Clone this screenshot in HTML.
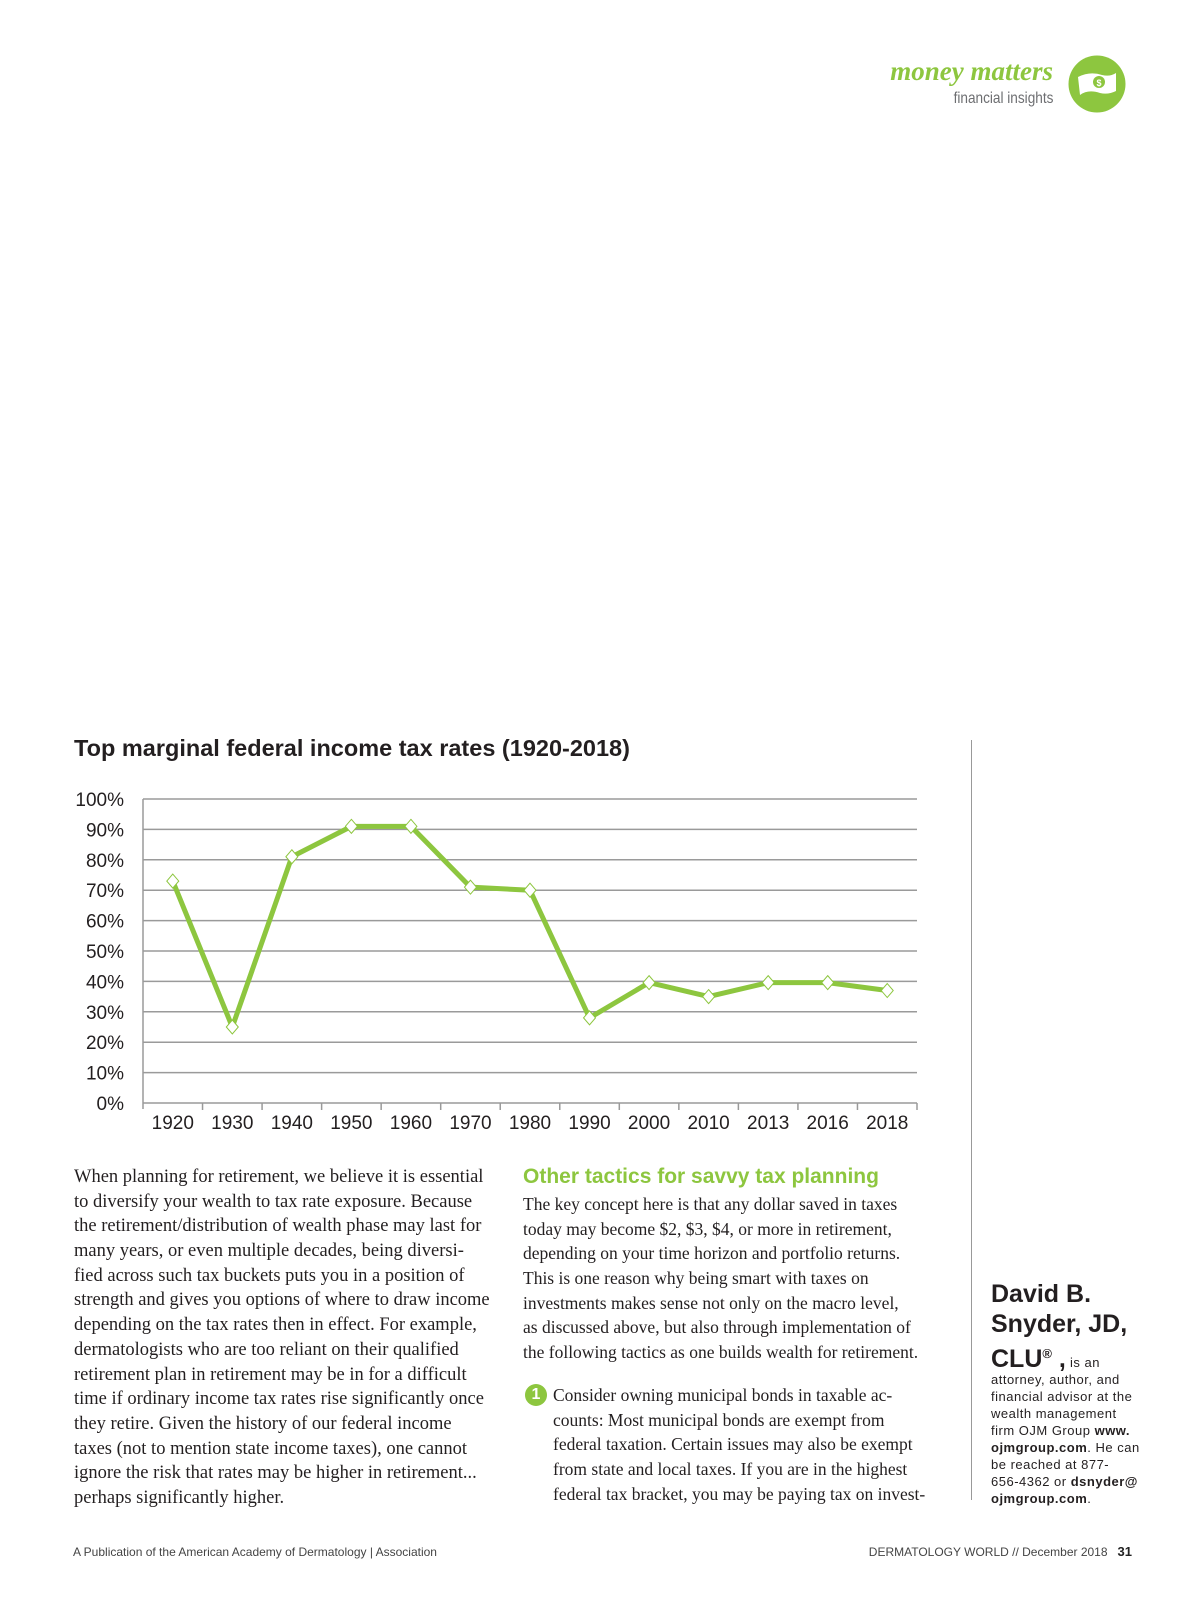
<!DOCTYPE html>
<html><head><meta charset="utf-8">
<style>
*{margin:0;padding:0;box-sizing:border-box}
body{width:1200px;height:1606px;background:#fff;position:relative;overflow:hidden;font-family:"Liberation Sans",sans-serif;color:#231f20}
.abs{position:absolute}
.serif{font-family:"Liberation Serif",serif}
.l{white-space:nowrap;height:24.7px;line-height:24.7px}
.side{white-space:nowrap;font-size:13px;line-height:17px;letter-spacing:0.5px}
</style></head><body>
<div class="abs" style="right:147px;top:56px;font-family:'Liberation Serif',serif;font-style:italic;font-weight:bold;font-size:27px;color:#8dc63f;white-space:nowrap">money matters</div>
<div class="abs" style="right:147px;top:90px;font-size:16px;color:#6d6e71;white-space:nowrap;transform:scaleX(0.85);transform-origin:right">financial insights</div>
<svg class="abs" style="left:1068px;top:55px" width="58" height="58" viewBox="0 0 58 58">
<circle cx="29" cy="29" r="28.5" fill="#8dc63f"/>
<path d="M10 22 Q22 16 34 20 Q42 22 48 18 L48 36 Q40 40 32 38 Q20 34 12 40 Z" fill="#fff"/>
<circle cx="31" cy="27" r="6" fill="#8dc63f"/><text x="31" y="31" font-size="9" fill="#fff" text-anchor="middle" font-family="Liberation Sans" font-weight="bold">$</text>
</svg>

<div class="abs" style="left:74px;top:735px;font-size:23.5px;font-weight:bold;white-space:nowrap">Top marginal federal income tax rates (1920-2018)</div>
<svg class="abs" id="chart" style="left:0;top:770px" width="960" height="370"></svg>

<div class="abs serif" style="left:74px;top:1165px;font-size:18.5px">
<div class="l">When planning for retirement, we believe it is essential</div>
<div class="l">to diversify your wealth to tax rate exposure. Because</div>
<div class="l">the retirement/distribution of wealth phase may last for</div>
<div class="l">many years, or even multiple decades, being diversi-</div>
<div class="l">fied across such tax buckets puts you in a position of</div>
<div class="l">strength and gives you options of where to draw income</div>
<div class="l">depending on the tax rates then in effect. For example,</div>
<div class="l">dermatologists who are too reliant on their qualified</div>
<div class="l">retirement plan in retirement may be in for a difficult</div>
<div class="l">time if ordinary income tax rates rise significantly once</div>
<div class="l">they retire. Given the history of our federal income</div>
<div class="l">taxes (not to mention state income taxes), one cannot</div>
<div class="l">ignore the risk that rates may be higher in retirement...</div>
<div class="l">perhaps significantly higher.</div>
</div>

<div class="abs" style="left:523px;top:1165px;font-size:21px;font-weight:bold;color:#8dc63f;white-space:nowrap">Other tactics for savvy tax planning</div>
<div class="abs serif" style="left:523px;top:1192px;font-size:17.5px">
<div class="l">The key concept here is that any dollar saved in taxes</div>
<div class="l">today may become $2, $3, $4, or more in retirement,</div>
<div class="l">depending on your time horizon and portfolio returns.</div>
<div class="l">This is one reason why being smart with taxes on</div>
<div class="l">investments makes sense not only on the macro level,</div>
<div class="l">as discussed above, but also through implementation of</div>
<div class="l">the following tactics as one builds wealth for retirement.</div>
</div>
<div class="abs" style="left:525px;top:1384px;width:22px;height:22px;border-radius:50%;background:#8dc63f;color:#fff;font-weight:bold;font-size:16px;text-align:center;line-height:22px">1</div>
<div class="abs serif" style="left:553px;top:1383px;font-size:17.5px">
<div class="l">Consider owning municipal bonds in taxable ac-</div>
<div class="l">counts: Most municipal bonds are exempt from</div>
<div class="l">federal taxation. Certain issues may also be exempt</div>
<div class="l">from state and local taxes. If you are in the highest</div>
<div class="l">federal tax bracket, you may be paying tax on invest-</div>
</div>

<div class="abs" style="left:971px;top:740px;width:1px;height:760px;background:#999"></div>
<div class="abs" style="left:991px;top:1279px;font-size:25px;font-weight:bold;line-height:30px;white-space:nowrap">David B.<br>Snyder, JD,<br>CLU<span style="font-size:13px;vertical-align:9px">®</span> ,<span style="font-size:13px;font-weight:normal;letter-spacing:0.5px"> is an</span></div>
<div class="abs side" style="left:991px;top:1371px">attorney, author, and<br>financial advisor at the<br>wealth management<br>firm OJM Group <b>www.</b><br><b>ojmgroup.com</b>. He can<br>be reached at 877-<br>656-4362 or <b>dsnyder@</b><br><b>ojmgroup.com</b>.</div>

<div class="abs" style="left:73px;top:1545px;font-size:12px;color:#444;white-space:nowrap">A Publication of the American Academy of Dermatology | Association</div>
<div class="abs" style="right:68px;top:1544px;font-size:12px;color:#444;white-space:nowrap">DERMATOLOGY WORLD // December 2018 &nbsp; <b style="font-size:13px;color:#222">31</b></div>

<script>
const categories=["1920","1930","1940","1950","1960","1970","1980","1990","2000","2010","2013","2016","2018"];
const rates=[73,25,81,91,91,71,70,28,39.6,35,39.6,39.6,37];
const yTicks=[0,10,20,30,40,50,60,70,80,90,100];
const svg=document.getElementById('chart');
const NS='http://www.w3.org/2000/svg';
const X0=143,X1=917,Y0=333,Y1=29;
const band=(X1-X0)/categories.length;
const xs=i=>X0+band*(i+0.5);
const ys=v=>Y0-(v/100)*(Y0-Y1);
function mk(t,a){const e=document.createElementNS(NS,t);for(const k in a)e.setAttribute(k,a[k]);svg.appendChild(e);return e;}
yTicks.forEach(v=>{
 const g=mk('line',{x1:X0,x2:X1,y1:ys(v),y2:ys(v),stroke:'#9a9a9a','stroke-width':1.5});
 
 
 const t=mk('text',{x:124,y:ys(v)+7,'text-anchor':'end','font-size':19,'font-family':'Liberation Sans',fill:'#231f20'});
 t.textContent=v+'%';
 
 
});
const ax=mk('line',{x1:X0,x2:X0,y1:Y1,y2:Y0+6,stroke:'#9a9a9a','stroke-width':1.5});


categories.forEach((c,i)=>{
 const tk=mk('line',{x1:X0+band*(i+1),x2:X0+band*(i+1),y1:Y0,y2:Y0+7,stroke:'#9a9a9a','stroke-width':1.5});
 
 
 const t=mk('text',{x:xs(i),y:Y0+26,'text-anchor':'middle','font-size':19,'font-family':'Liberation Sans',fill:'#231f20'});
 t.textContent=c;
 
 
});
const pts=rates.map((v,i)=>xs(i)+','+ys(v)).join(' ');
const line=mk('polyline',{points:pts,fill:'none',stroke:'#8dc63f','stroke-width':5,'stroke-linejoin':'round'});


rates.forEach((v,i)=>{
 const x=xs(i),y=ys(v);
 const m=mk('polygon',{points:`${x},${y-7} ${x+6},${y} ${x},${y+7} ${x-6},${y}`,fill:'#fff',stroke:'#8dc63f','stroke-width':1});
 
 
});
</script>
</body></html>
